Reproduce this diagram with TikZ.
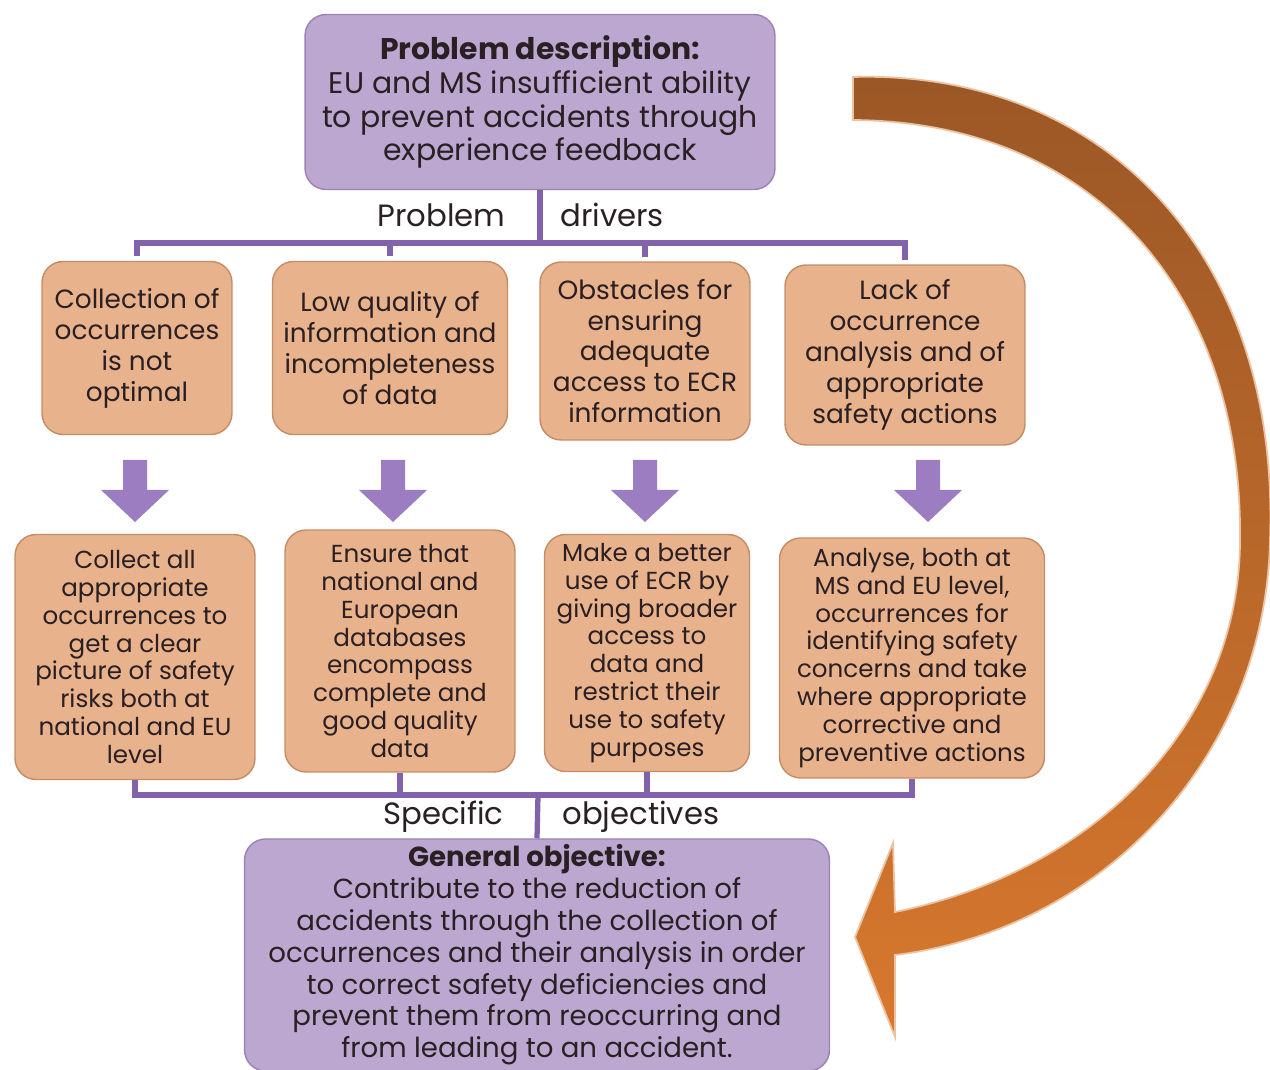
\documentclass[tikz,border=0pt]{standalone}
\usepackage{fontspec}
\setmainfont{Poppins}
\usetikzlibrary{shadows}

\definecolor{boxpurple}{HTML}{BCA7D0}
\definecolor{edgepurple}{HTML}{9A83B4}
\definecolor{boxorange}{HTML}{E8B28C}
\definecolor{edgeorange}{HTML}{C48C64}
\definecolor{linepurple}{HTML}{8263AB}
\definecolor{arrowpurple}{HTML}{9C7DC2}
\definecolor{loopbrown}{HTML}{9A5726}
\definecolor{looporange}{HTML}{D8782E}
\definecolor{inkdark}{HTML}{2A1F22}

\begin{document}
\begin{tikzpicture}[x=0.02cm,y=-0.02cm,
    box/.style = {rounded corners=12pt, align=center, text=inkdark, line width=0.8pt,
      drop shadow={opacity=0.3,shadow xshift=1pt,shadow yshift=-1.5pt},
      preaction={draw=white,line width=5pt}},
    mainbox/.style = {box, fill=boxpurple, draw=edgepurple, font=\fontsize{17}{19.3}\selectfont},
    goalbox/.style = {box, fill=boxpurple, draw=edgepurple, font=\fontsize{15.7}{18.1}\selectfont},
    driverbox/.style = {box, fill=boxorange, draw=edgeorange, font=\fontsize{15}{17.6}\selectfont},
    aimbox/.style = {box, fill=boxorange, draw=edgeorange, font=\fontsize{14}{15.9}\selectfont},
    bracket/.style = {linepurple, line width=3pt},
    tag/.style = {text=inkdark, font=\fontsize{17.5}{19}\selectfont, inner sep=0pt}]

    \useasboundingbox (0,0) rectangle (1270,1070);

    % Feedback loop
    \shade[top color=loopbrown, bottom color=looporange, draw=looporange!45!white, line width=1pt]
      (853,77) .. controls (1100,70) and (1280,250) .. (1270,540)
      .. controls (1265,760) and (1100,930) .. (895,955)
      -- (895,1037) -- (855,937) -- (893,843) -- (895,912)
      .. controls (1100,870) and (1240,720) .. (1240,540)
      .. controls (1243,300) and (1100,122) .. (853,120) -- cycle;

    % Problem description
    \node [mainbox, minimum width=9.4cm, minimum height=3.5cm] (problem) at (540,102)
      {\textbf{Problem description:}\\EU and MS insufficient ability\\to prevent accidents through\\experience feedback};

    % Problem drivers
    \node [driverbox, minimum width=3.8cm, minimum height=3.46cm] (cause1) at (137,348)
      {Collection of\\occurrences\\is not\\optimal};
    \node [driverbox, minimum width=4.7cm, minimum height=3.46cm] (cause2) at (390,348)
      {Low quality of\\information and\\incompleteness\\of data};
    \node [driverbox, minimum width=4.2cm, minimum height=3.56cm] (cause3) at (645,351)
      {Obstacles for\\ensuring\\adequate\\access to ECR\\information};
    \node [driverbox, minimum width=4.8cm, minimum height=3.6cm] (cause4) at (905,355)
      {Lack of\\occurrence\\analysis and of\\appropriate\\safety actions};

    % Specific objectives
    \node [aimbox, minimum width=4.8cm, minimum height=4.9cm] (aim1) at (135,657)
      {Collect all\\appropriate\\occurrences to\\get a clear\\picture of safety\\risks both at\\national and EU\\level};
    \node [aimbox, minimum width=4.6cm, minimum height=4.84cm] (aim2) at (400,651)
      {Ensure that\\national and\\European\\databases\\encompass\\complete and\\good quality\\data};
    \node [aimbox, minimum width=4.1cm, minimum height=4.74cm] (aim3) at (647,653)
      {Make a better\\use of ECR by\\giving broader\\access to\\data and\\restrict their\\use to safety\\purposes};
    \node [aimbox, minimum width=5.3cm, minimum height=4.8cm] (aim4) at (912,658)
      {Analyse, both at\\MS and EU level,\\occurrences for\\identifying safety\\concerns and take\\where appropriate\\corrective and\\preventive actions};

    % General objective
    \node [goalbox, minimum width=11.7cm, minimum height=4.54cm] (general) at (537,955)
      {\textbf{General objective:}\\Contribute to the reduction of\\accidents through the collection of\\occurrences and their analysis in order\\to correct safety deficiencies and\\prevent them from reoccurring and\\from leading to an accident.};

    % Brackets
    \coordinate (dsplit) at (540,243);
    \coordinate (osplit) at (538,795);
    \draw[bracket] (problem.south) -- (dsplit);
    \draw[bracket, line cap=rect] (cause1.north |- dsplit) -- (cause4.north |- dsplit);
    \foreach \n in {cause1,cause2,cause3,cause4}
      \draw[bracket] ([yshift=2.5pt]\n.north) -- (\n.north |- dsplit);
    \draw[bracket, line cap=rect] (aim1.south |- osplit) -- (aim4.south |- osplit);
    \foreach \n in {aim1,aim2,aim3,aim4}
      \draw[bracket] (\n.south) -- (\n.south |- osplit);
    \draw[bracket] (osplit) -- (general.north);

    \node [tag, anchor=east] (problbl) at (506,215) {Problem};
    \node [tag, anchor=west] (drvlbl) at (560,215) {drivers};
    \node [tag, anchor=east] (speclbl) at (504,817) {Specific};
    \node [tag, anchor=west] (objlbl) at (562,817) {objectives};

    % Down arrows
    \foreach \x in {135,393,645,928}
      \fill[arrowpurple] (\x-12,460) -- (\x+12,460) -- (\x+12,490) -- (\x+34,490)
        -- (\x,522) -- (\x-34,490) -- (\x-12,490) -- cycle;

\end{tikzpicture}
\end{document}
